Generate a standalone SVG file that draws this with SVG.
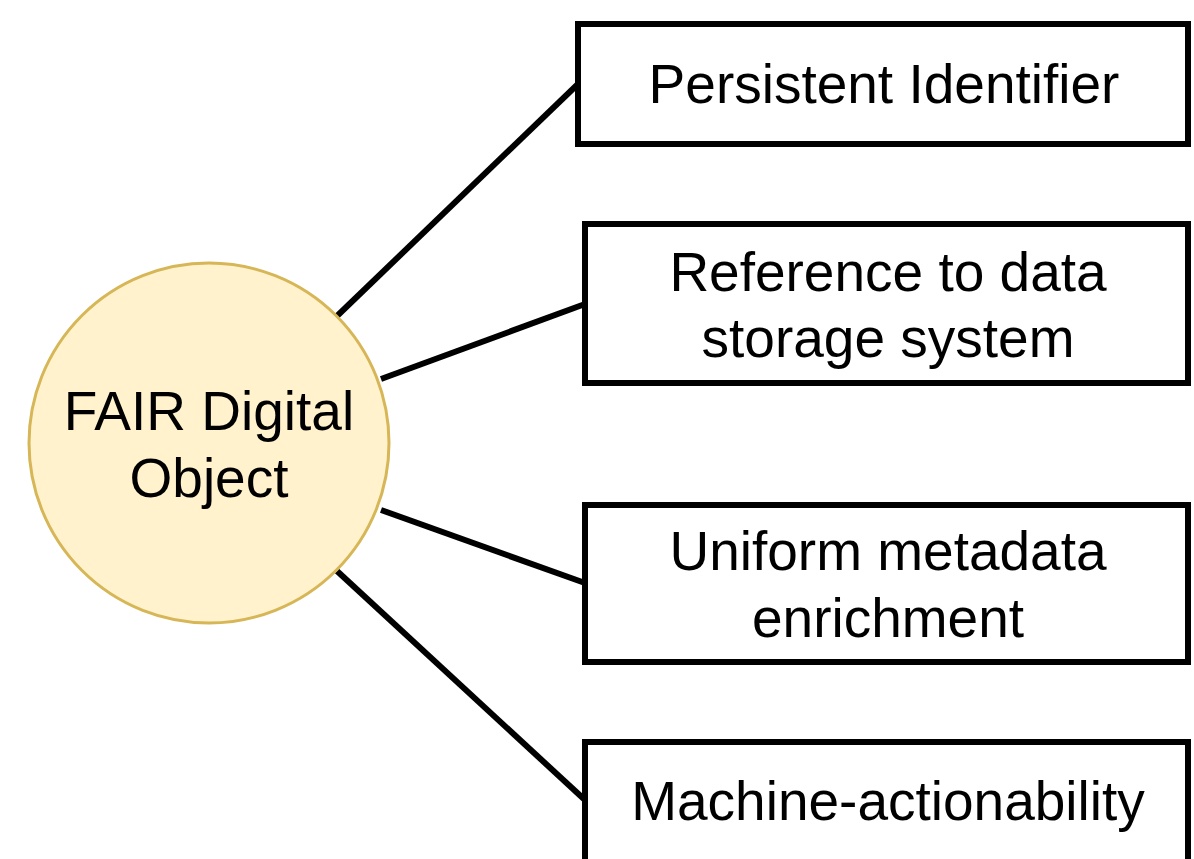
<svg xmlns="http://www.w3.org/2000/svg" width="1194" height="859" viewBox="0 0 1194 859">
<style>
.box{fill:#ffffff;stroke:#000000;stroke-width:6}
.lbl{font-family:"Liberation Sans",Arial,sans-serif;font-size:55px;fill:#000000;text-anchor:middle}
.edge{stroke:#000000;stroke-width:6;fill:none}
</style>
<rect width="1194" height="859" fill="#ffffff"/>
<g id="connectors">
<line class="edge" x1="337" y1="316" x2="578" y2="84"/>
<line class="edge" x1="381" y1="379" x2="585" y2="304"/>
<line class="edge" x1="381" y1="510" x2="585" y2="583"/>
<line class="edge" x1="337" y1="571" x2="585" y2="800"/>
</g>
<g id="fdo">
<circle cx="209" cy="443" r="180" fill="#fff2cc" stroke="#d6b656" stroke-width="3"/>
<text class="lbl" x="209" y="430">FAIR Digital</text>
<text class="lbl" x="209" y="497">Object</text>
</g>
<g id="pid">
<rect class="box" x="578" y="24" width="610" height="120"/>
<text class="lbl" x="884" y="103">Persistent Identifier</text>
</g>
<g id="ref">
<rect class="box" x="585" y="224" width="603" height="159"/>
<text class="lbl" x="888" y="291">Reference to data</text>
<text class="lbl" x="888" y="357">storage system</text>
</g>
<g id="meta">
<rect class="box" x="585" y="505" width="603" height="157"/>
<text class="lbl" x="888" y="570">Uniform metadata</text>
<text class="lbl" x="888" y="637">enrichment</text>
</g>
<g id="machine">
<rect class="box" x="585" y="742" width="603" height="122"/>
<text class="lbl" x="888" y="820">Machine-actionability</text>
</g>
</svg>
